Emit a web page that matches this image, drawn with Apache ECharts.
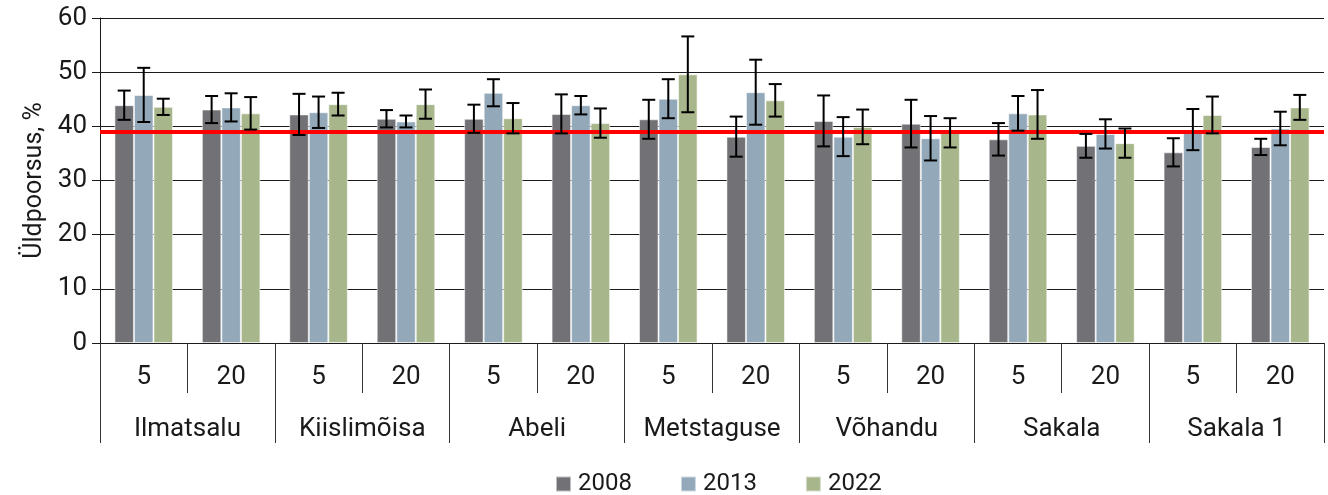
<!DOCTYPE html>
<html>
<head>
<meta charset="utf-8">
<script src="https://cdn.jsdelivr.net/npm/echarts@6/dist/echarts.min.js"></script>
<style>
html,body{margin:0;padding:0;background:#fff;}
#chart{width:1328px;height:495px;}
</style>
</head>
<body>
<div id="chart"></div>
<script>
const sites = ['Ilmatsalu','Kiislimõisa','Abeli','Metstaguse','Võhandu','Sakala','Sakala 1'];
const depths = ['5','20'];
const years = ['2008','2013','2022'];
const v2008 = [43.9,43.1,42.2,41.4,41.4,42.3,41.3,38.1,41.0,40.5,37.6,36.4,35.2,36.2];
const e2008 = [2.7,2.5,3.8,1.6,2.6,3.6,3.6,3.7,4.7,4.4,3.0,2.2,2.6,1.5];
const v2013 = [45.8,43.5,42.6,40.9,46.2,43.9,45.1,46.3,38.1,37.8,42.4,38.6,39.4,39.6];
const e2013 = [5.0,2.6,2.9,1.1,2.5,1.7,3.6,6.0,3.6,4.1,3.2,2.7,3.8,3.1];
const v2022 = [43.6,42.4,44.1,44.1,41.5,40.6,49.6,44.8,39.9,38.8,42.2,36.9,42.1,43.5];
const e2022 = [1.5,3.0,2.1,2.7,2.8,2.7,7.0,3.0,3.2,2.7,4.5,2.7,3.4,2.3];
const refLine = 39;
const yTicks = [0,10,20,30,40,50,60];

const colors = ['#727176','#93a9ba','#a8b78b'];
const values = [v2008, v2013, v2022];
const errors = [e2008, e2013, e2022];

const cats = [];
sites.forEach(s => depths.forEach(d => cats.push(s + '|' + d)));

const FONT = 'Roboto';
const TXT = '#1a1a1a';
const GAP = 0.33;

const chart = echarts.init(document.getElementById('chart'), null, {renderer:'canvas'});

function errSeries(k){
  const data = values[k].map((v,i)=>[i, v, errors[k][i]]);
  return {
    type:'custom',
    name:'err'+k,
    xAxisIndex:0, yAxisIndex:0,
    z:10,
    silent:true,
    data,
    renderItem:function(params, api){
      const idx = api.value(0), m = api.value(1), e = api.value(2);
      const band = api.size([1,0])[0];
      const bw = band*(1-GAP)/3;
      const c = api.coord([idx, m]);
      const cx = c[0] + (k-1)*bw;
      const top = api.coord([idx, m+e])[1];
      const bot = api.coord([idx, m-e])[1];
      const cap = 6.5;
      const st = {stroke:'#000', lineWidth:2};
      return {type:'group', children:[
        {type:'line', shape:{x1:cx,y1:top,x2:cx,y2:bot}, style:st},
        {type:'line', shape:{x1:cx-cap,y1:top,x2:cx+cap,y2:top}, style:st},
        {type:'line', shape:{x1:cx-cap,y1:bot,x2:cx+cap,y2:bot}, style:st}
      ]};
    }
  };
}

const barSeries = years.map((y,k)=>({
  type:'bar', name:y, xAxisIndex:0, yAxisIndex:0,
  data: values[k],
  barGap:'0%', barCategoryGap:(GAP*100)+'%',
  itemStyle:{color:colors[k], borderColor:'rgba(255,255,255,0.55)', borderWidth:1},
  z:2
}));

const option = {
  animation:false,
  textStyle:{fontFamily:FONT},
  grid:{left:100, right:4, top:18, bottom:152, containLabel:false},
  legend:{
    data:years, left:550, top:467,
    icon:'rect', itemWidth:15, itemHeight:15, itemGap:48,
    textStyle:{fontFamily:FONT, fontSize:24, color:TXT, padding:[0,0,0,2]}
  },
  xAxis:[
    {
      type:'category', data:cats, position:'bottom',
      axisLine:{show:true, lineStyle:{color:'#1a1a1a', width:1}},
      axisTick:{show:true, interval:0, length:50, lineStyle:{color:'#333', width:1}},
      axisLabel:{interval:0, margin:21, fontFamily:FONT, fontSize:26, color:TXT,
        formatter:v=>v.split('|')[1]},
      splitLine:{show:false}
    },
    {
      type:'category', data:sites, position:'bottom', offset:50,
      axisLine:{show:false},
      axisTick:{show:true, interval:0, length:50, lineStyle:{color:'#333', width:1}},
      axisLabel:{interval:0, margin:23, fontFamily:FONT, fontSize:26, color:TXT},
      splitLine:{show:false}
    }
  ],
  yAxis:{
    type:'value', min:yTicks[0], max:yTicks[yTicks.length-1], interval:10,
    name:'Üldpoorsus, %', nameLocation:'middle', nameGap:52, nameRotate:90,
    nameTextStyle:{fontFamily:FONT, fontSize:25, color:TXT},
    axisLine:{show:true, lineStyle:{color:'#1a1a1a', width:1}},
    axisTick:{show:true, inside:false, length:8, lineStyle:{color:'#1a1a1a'}},
    axisLabel:{margin:13, fontFamily:FONT, fontSize:26, color:TXT},
    splitLine:{show:true, lineStyle:{color:'#1a1a1a', width:1}}
  },
  series:[
    ...barSeries,
    errSeries(0), errSeries(1), errSeries(2),
    {
      type:'line', name:'ref', data:[], xAxisIndex:0, yAxisIndex:0, z:20,
      markLine:{
        silent:true, symbol:['none','none'], label:{show:false},
        lineStyle:{color:'#ff0000', width:4, type:'solid'},
        data:[{yAxis:refLine}]
      }
    }
  ]
};
chart.setOption(option);
</script>
</body>
</html>
